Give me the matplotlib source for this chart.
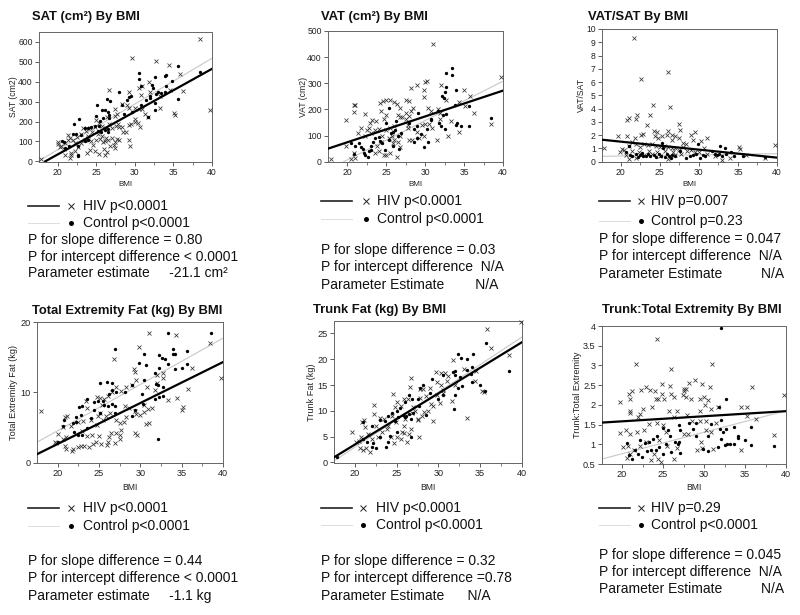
import matplotlib
matplotlib.use('Agg')
import matplotlib.pyplot as plt
from matplotlib.lines import Line2D

plt.rcParams.update({
    'font.family': ['Liberation Sans', 'DejaVu Sans'],
})

W, H = 800, 615

# (BMI, value)
sat_hiv = [(38.4,615),(29.7,520),(32.8,503),(34.4,483),(35.8,440),(36.3,352),(39.8,260),(35.1,245),(35.2,235),(33.3,270),(31.9,398),(31,380),(30.5,370),(30.8,335),(29.3,350),(26.7,360),(17.9,10),(29.3,110),(29.4,75),(28.5,150),(28.9,150),(27.5,265),(28.3,290),(29,285),(29.2,270),(30,270),(30.5,262),(31,262),(31.3,240),(31.7,225),(29.5,190),(30,200),(30,215),(30.4,195),(30.7,172),(29.2,185),(28.3,175),(27.8,190),(28,175),(27.7,115),(28,110),(27.4,65),(27.3,80),(27.4,95),(26.8,75),(27,120),(26.5,110),(26.2,100),(25.9,95),(26,60),(26.1,30),(26.4,45),(25.4,35),(24.8,50),(24.2,55),(23.8,40),(24.6,80),(24.3,100),(23.9,120),(23.5,105),(23,90),(22.7,70),(22.2,50),(21.7,30),(21.6,15),(21.8,40),(21,30),(20.9,60),(20.5,75),(20,85),(20,95),(20.3,70),(21,90),(21.3,110),(21.4,135),(21.6,120),(22,105),(22.3,90),(22.5,125),(23,140),(23.3,170),(23.7,155),(24,130),(24.4,150),(24.8,175),(24.2,170),(25,210),(25.4,195),(25.8,180),(26.3,170),(26.7,190),(27,170),(27.6,180),(27.5,230),(27.7,240),(26.4,225),(25,105),(25.5,115),(25.2,140),(25.8,130),(26.3,120),(32,350),(34.5,360),(33.3,330)]
sat_ctrl = [(35.6,480),(38.5,447),(30.5,445),(30.5,413),(32.6,425),(33.9,428),(34.1,432),(34.8,403),(35.6,315),(30.8,378),(28,350),(29.5,330),(29.3,325),(26.4,315),(26.8,305),(25.1,285),(28.4,285),(30.8,285),(29,310),(28.6,238),(29.7,248),(31.5,310),(32,330),(32,320),(32.2,385),(32.4,370),(32.8,340),(33,350),(33.4,345),(33.9,350),(34,378),(32.6,295),(32.6,258),(31.7,222),(26.2,258),(25.8,258),(26.5,250),(26.7,235),(26.7,220),(25.9,220),(25.5,205),(25,230),(22.1,190),(22.8,212),(23.5,170),(24.3,175),(24.9,180),(25.2,155),(25.6,150),(26.5,165),(26.5,150),(24,170),(20.6,100),(20.8,95),(21,65),(21.5,75),(22,140),(22.4,140),(22.6,25),(22.6,30),(22.7,75),(23,135),(23.5,100),(24,110),(25.4,180),(26.2,160)]

vat_hiv = [(31,450),(39.8,323),(30.2,308),(30,305),(28.9,295),(28.2,283),(29.9,273),(29.9,248),(32,295),(32.7,238),(35,273),(34.4,230),(35.7,250),(36.3,187),(38.4,145),(35.1,215),(33.3,155),(34.4,112),(32.9,100),(31.5,85),(30.9,130),(30.5,145),(30,145),(29.6,140),(29,115),(29.9,100),(29.2,90),(28.3,85),(27.9,85),(30.3,205),(30.7,195),(31.9,185),(31.9,165),(31.7,200),(28.4,205),(28.2,195),(27.5,235),(27.9,232),(27.5,185),(27.9,175),(27.8,140),(27.8,130),(26.8,205),(26.4,220),(26,228),(25.5,237),(25,235),(24.6,232),(24.2,225),(24.9,180),(24.7,165),(24.3,195),(23.7,155),(23.2,160),(22.9,150),(22.8,130),(22.2,182),(21,218),(20.8,218),(20.8,190),(19.8,160),(17.9,12),(19.8,60),(20.5,10),(20.8,35),(21,15),(21.3,110),(21.8,130),(22.2,100),(22.5,120),(23,110),(23.5,120),(24,125),(24.5,100),(25,120),(25.5,130),(26,135),(26.5,180),(26.7,170),(26,85),(26.4,20),(25.5,35),(25,25),(24.7,25),(24,40),(23.5,35),(23.8,60),(24.3,75),(26.7,55),(26.5,75),(25.8,70),(25.3,90),(25.7,100),(26.8,100),(27.5,165),(27,170)]
vat_ctrl = [(20.5,70),(20.8,28),(21,60),(21.5,70),(21.8,55),(22,50),(22.1,35),(22.3,25),(22.6,20),(22.8,40),(23,60),(23.3,75),(23,45),(23.6,90),(24.1,95),(24.2,80),(24.5,70),(24.8,45),(25,150),(25.3,207),(25.4,85),(25.6,110),(25.9,115),(25.8,60),(26.1,120),(26.5,100),(26.6,50),(26.9,110),(26.3,155),(27.9,150),(28.6,75),(28.6,125),(28.9,90),(29,138),(29.1,185),(29.4,105),(29.8,57),(30.2,125),(30.4,75),(30.7,160),(30.8,165),(31.8,150),(32,135),(32.5,125),(31.7,195),(32.3,180),(32.7,182),(33.9,142),(34.1,148),(34.6,138),(35.6,138),(35.6,215),(33.8,218),(38.5,168),(33.4,360),(33.4,330),(32.7,340),(32.7,285),(34,275),(32.5,265),(32.2,250),(32.4,245)]

ratio_hiv = [(21.7,9.3),(26,6.75),(22.6,6.2),(24.1,4.3),(26.3,4.1),(23.8,3.5),(21.9,3.2),(22.1,3.5),(21,3.3),(20.8,3.15),(23.3,2.75),(27.4,2.85),(27.6,2.4),(24.2,2.3),(26,2.3),(29.5,2.25),(24.6,2.2),(22.9,2.1),(22.6,2),(20.8,1.95),(19.7,1.9),(21.8,1.75),(24.4,1.9),(24.8,1.8),(25.3,1.95),(25.9,2),(26.5,2),(27,1.95),(27.4,1.8),(29,2),(29.3,1.65),(30.3,1.55),(31.1,1.75),(26.6,1.6),(28,1.4),(28.3,1.35),(17.9,1.05),(35.1,1.1),(35.2,0.95),(39.8,1.25),(38.4,0.3),(30.6,1),(20.2,0.95),(19.9,0.7),(20.4,0.9),(21,1.2),(21.5,1.5),(22,1.3),(22.5,1.1),(23,1.35),(23.5,1.25),(24,1.35),(24.5,1.15),(25,1.1),(25.5,1.2),(26,1.1),(26.5,1),(27,1),(27.5,0.9),(28,1.1),(28.5,0.8),(29,0.9),(29.5,0.7),(30,0.75),(31,0.6),(32,0.4),(33,0.1),(34,0.3),(36,0.5),(21,0.2),(22,0.3),(23,0.5),(24,0.6),(25,0.4),(26,0.2),(27,0.5),(20.7,0.5),(21.5,0.8),(22.3,0.7),(23.6,0.8),(24.7,0.75),(25.7,0.8),(26.7,0.7),(27.7,0.6)]
ratio_ctrl = [(21.1,1.2),(20.7,0.7),(21.2,0.5),(21.5,0.4),(21.9,0.6),(22.2,0.35),(22.4,0.5),(22.7,0.65),(22.9,0.45),(23.2,0.4),(23.5,0.55),(23.8,0.4),(24.2,0.5),(24.5,0.35),(24.9,0.6),(25.2,0.45),(25.3,1.4),(25.4,1),(25.6,0.35),(25.9,0.55),(26.2,0.45),(26.4,0.3),(26.6,0.5),(26.9,0.4),(27.6,0.8),(28.3,0.3),(28.9,0.4),(29.2,0.5),(29.6,0.6),(29.9,1.35),(30.2,0.3),(30.5,0.5),(30.8,0.45),(31.7,0.8),(32,0.6),(32.3,0.5),(32.6,0.55),(32.7,1.15),(33.4,1),(33.5,0.6),(34.1,0.7),(34.5,0.4),(35.7,0.45),(38.5,0.35),(33,0.4)]

ext_hiv = [(18,7.3),(31.1,18.4),(34.3,18.1),(38.4,17),(29.8,16.4),(26.8,14.8),(36.3,13.5),(39.8,12.1),(35.8,10.5),(34.4,9.2),(33.4,8.9),(35.2,7.9),(35.1,7.5),(31.4,7.7),(30.4,8.2),(31.1,5.7),(30.7,5.5),(29.6,4),(29.4,4.2),(29.5,6.9),(30,6.8),(30.5,7.2),(30.9,7.6),(31.8,10.3),(32,11.3),(30.8,10.7),(32.8,12.8),(32.7,12),(32,12.5),(29.2,13.3),(29.4,12.9),(29.5,11.8),(29,11),(28.3,10.7),(27.7,10.2),(27.1,10.8),(26.6,10),(26.1,9.5),(25.6,9),(25.1,9.2),(24.7,9.4),(23.4,8.8),(23.5,7.8),(21.1,6.7),(20.9,6.5),(20,4.1),(20.6,5),(19.7,3),(19.8,2.8),(20.7,3.4),(21,3.6),(20.9,2.3),(21,2),(21.7,1.7),(21.8,2),(22.4,2.2),(22.8,2.3),(23.2,2.3),(23.8,2.2),(24.3,2.6),(24.6,3),(25.3,2.7),(26,2.5),(26.1,2.9),(26.9,2.8),(27.6,3.3),(27.6,3.9),(27.7,4.6),(27,4.2),(26.4,4.2),(26.2,3.6),(25,3.8),(24.2,4),(23.5,3.8),(23,4.5),(22.5,5.8),(21.6,5.2),(23.1,5.9),(24,6),(24.7,5.3),(25.5,6),(26.3,7),(25.9,6.7),(27,6),(27.5,5.6),(28,5.8),(28.3,6.5),(28.1,8),(28.6,7.8),(29.4,7.4),(25.4,8.2),(24.9,6.6),(25.1,7.1)]
ext_ctrl = [(38.5,18.5),(33.4,18.4),(26.9,16.2),(34,16.2),(35.7,15.9),(30.4,15.4),(32.3,15.3),(34,15.5),(34.2,15.5),(32.6,14.9),(33,14.7),(29.8,14.1),(30.7,13.9),(33.4,14),(35.7,14),(32.2,13.5),(34.2,13.3),(35,13.5),(31.8,12.8),(30.4,11.8),(31.9,11.2),(32.1,11),(32.7,10.7),(32.7,9.5),(32.2,9.3),(31.8,9),(32.1,3.3),(30.2,9.8),(30.3,8.3),(29.4,7.5),(29,6.6),(29,11.1),(28.2,10),(27,10),(26.6,11.3),(26,11.5),(25.1,11.3),(26.6,10.3),(26.2,9.8),(25.5,8.8),(24.9,8.7),(24.4,8.6),(23.5,9),(23,8),(22.6,7.9),(22.8,6.8),(22.2,6.5),(20.8,6),(20.6,5.2),(21.9,5.6),(22.2,5.8),(22,4.4),(22.5,4),(23,4),(23.6,4.9),(24,6.4),(24.4,7.5),(25.1,7),(25.6,8.2),(26.1,8.1),(26.6,8.3),(26.9,7),(26.9,8),(20,3)]

trunk_hiv = [(39.9,27.3),(35.8,25.8),(36.3,22.2),(38.4,20.9),(33.4,8.6),(29.4,8),(35.2,13.9),(35.5,13.7),(34.4,15.7),(34.5,17.8),(33,18.1),(31.7,19.9),(31.6,12),(30.8,17.4),(30.3,17.3),(29.7,17.5),(30.3,15),(30.6,14),(30.2,11.6),(29.1,11.3),(29.3,11),(29,14.5),(28.2,14.2),(27.8,14.3),(26.7,16.4),(26.6,14.7),(24.6,13.3),(25.9,12.3),(26.4,12.3),(22.3,11.1),(22.3,9.3),(21.1,8.3),(20.8,7.8),(19.7,6),(21.2,6.8),(20.1,3.9),(20.7,5),(20.6,2.8),(21,2.5),(21.3,2.8),(21.8,2),(22,4.5),(22.8,5),(23.3,6),(24,7),(24.3,5),(24.7,3.7),(25.5,4.5),(25,5),(26.2,4),(26.5,5.5),(26.7,6.5),(25.9,7),(25.6,6),(27.7,5),(27.6,8.3),(28,9),(28.7,10),(27.2,10),(26.8,9.5),(25.5,11),(25,11.7),(24.8,10.7),(24.4,9),(23.5,8.5),(23,8.7),(22.5,7),(21.6,5.5),(20.5,4.2),(29.8,13),(30.5,13.5),(29.8,15.5),(31,15.7),(31.2,16.7),(32,15),(28.5,12.8),(27.8,12.4),(26.9,10.7),(25.9,5.7),(26,8.5),(24.9,7.9),(23.9,6.5),(27.5,8.5),(28.3,9.8)]
trunk_ctrl = [(35.7,23.1),(38.5,17.8),(32.3,21),(34.1,21),(32.7,20.3),(33.4,20),(34,18.5),(33.4,18),(32,17.8),(31.7,17.5),(30.6,17),(29.2,16.2),(32,17),(32.6,16.6),(33.9,17.1),(34,15.6),(35,15),(35.6,13.8),(32.8,14.9),(32.4,14.5),(32,13),(31.9,10.4),(30.6,13),(30,12.2),(29,13.5),(28.1,15.1),(27.8,14.5),(26.5,13),(26,11.8),(26.8,12.3),(25.4,10.5),(25,10),(24.5,9.5),(24,9),(23.6,8),(23,8.2),(22.1,7),(21,7.9),(21,4.5),(21.5,4),(22,3),(22.2,3.7),(22.5,2.8),(23,5),(23.7,3),(24,4),(24.2,5.2),(25,6),(26,8.8),(26.5,9.3),(26.7,8.4),(27,9.5),(26.7,5),(27.6,12.3),(27.7,11),(28.5,9.2),(26.1,9),(25.7,9.2),(25.2,8.8),(24.8,8),(17.8,1)]

tte_hiv = [(24.3,3.68),(21.7,3.03),(26,2.92),(31,3.03),(35.8,2.45),(39.8,2.25),(28.9,2.63),(29.7,2.53),(28.2,2.55),(30.7,2.45),(25.9,2.47),(24.9,2.53),(24,2.35),(23.4,2.38),(22.9,2.45),(22.3,2.37),(21.2,2.35),(20.9,2.28),(21,2.15),(19.8,2.08),(21,1.85),(21,1.8),(22.2,1.78),(22.5,1.9),(21.9,1.7),(23.6,1.95),(24.1,2.15),(24.4,2.15),(24.9,2.28),(25.1,2.15),(26,2.28),(26.3,2.2),(27.5,2.4),(27.6,2.35),(27.8,2.4),(27.4,2.25),(27.8,2.2),(28.4,2.15),(29.5,2.15),(30,2.2),(30.5,2.12),(30.1,2),(29.5,1.85),(30.9,1.9),(31.7,1.95),(34.5,1.95),(35.2,1.95),(35.3,1.72),(36.3,1.65),(38.5,1.23),(34.5,0.85),(31.1,0.88),(29.8,0.9),(29.2,0.85),(19.8,1.28),(20.5,1.37),(20.1,0.92),(20.7,0.95),(21,1.27),(21.8,1.3),(22.7,1.35),(23.3,1.52),(24.3,1.55),(25,1.5),(25.7,1.85),(26.3,1.7),(26.7,1.85),(27.9,1.75),(27.6,1.25),(28,1.25),(28.5,1.6),(29.5,1.6),(30.2,1.6),(30.2,1.35),(30.9,1.3),(31.5,1.55),(29.6,1.05),(20.6,0.65),(21,0.75),(21.5,0.85),(22.2,0.95),(22.9,1.05),(23.5,0.6),(23.9,0.75),(24.4,0.62),(24.8,0.55),(25.5,0.95),(26.3,0.62),(26.7,0.9),(25.3,1.3),(24.5,1.1)]
tte_ctrl = [(32.1,3.96),(32.7,2.15),(31.8,1.95),(32.1,1.62),(30.8,1.52),(29,1.22),(29,1.55),(28.6,1.38),(28.2,1.55),(27,1.5),(27.1,1.36),(25,1.42),(25.6,1.35),(24.2,1.22),(23.8,1.13),(23.3,1.05),(22.8,1.03),(22.2,1.1),(20.6,1.04),(20.8,0.72),(21.2,0.63),(21.6,0.85),(22,0.75),(22.4,0.68),(23.1,0.82),(23.5,0.85),(24.1,0.85),(24.5,0.92),(25,0.75),(25.4,1),(25.8,1.2),(26,0.8),(26.4,1.05),(26.8,1),(27.1,0.78),(27,1.05),(29.9,0.87),(30.5,0.84),(31.7,0.92),(32.1,1.13),(32.5,0.98),(32.8,1),(33.2,1),(33.6,1),(34.1,1.2),(34.2,1.15),(35,1.1),(35.7,0.98),(35.7,1.45),(33.6,1.45),(32.3,1.3),(32.7,1.38),(38.5,0.96),(30.5,1.22),(31.9,1.4)]

# fit lines, ends
sat_fit = ([18.4, 40], [0, 465]); sat_fit2 = ([17.9, 40], [10, 518])
vat_fit = ([17.5, 40], [50, 272]); vat_fit2 = ([19.5, 40], [0, 308])
ratio_fit = ([17.6, 40], [1.65, 0.3]); ratio_fit2 = ([17.6, 40], [0.4, 0.6])
ext_fit = ([17.5, 40], [1.2, 14.3]); ext_fit2 = ([17.5, 40], [2.9, 17.7])
trunk_fit = ([17.5, 40], [1, 23.3]); trunk_fit2 = ([17.5, 40], [0.3, 24.3])
tte_fit = ([17.5, 40], [1.55, 1.84]); tte_fit2 = ([17.6, 40], [0.63, 1.85])

bmi_ticks = [20, 25, 30, 35, 40]

panels = [
    dict(box=(39, 32, 212, 162), xlim=(17.6, 40), ylim=(-3, 650), yticks=[0,100,200,300,400,500,600],
         ylabel='SAT (cm2)', hiv=sat_hiv, ctrl=sat_ctrl, fit=sat_fit, fit2=sat_fit2,
         title='SAT (cm²) By BMI', title_xy=(32, 17), ylab_x=14, xlab_y=184, fs=6.2),
    dict(box=(328, 31, 503, 162), xlim=(17.5, 40), ylim=(-1, 500), yticks=[0,100,200,300,400,500],
         ylabel='VAT (cm2)', hiv=vat_hiv, ctrl=vat_ctrl, fit=vat_fit, fit2=vat_fit2,
         title='VAT (cm²) By BMI', title_xy=(321, 17), ylab_x=303, xlab_y=184, fs=6.2),
    dict(box=(602, 29, 777, 162), xlim=(17.6, 40), ylim=(-0.03, 10), yticks=list(range(11)),
         ylabel='VAT/SAT', hiv=ratio_hiv, ctrl=ratio_ctrl, fit=ratio_fit, fit2=ratio_fit2,
         title='VAT/SAT By BMI', title_xy=(588, 17), ylab_x=581, xlab_y=184, fs=6.2),
    dict(box=(37, 322, 223, 463), xlim=(17.5, 40), ylim=(-0.05, 20), yticks=[0,10,20],
         ylabel='Total Extremity Fat (kg)', hiv=ext_hiv, ctrl=ext_ctrl, fit=ext_fit, fit2=ext_fit2,
         title='Total Extremity Fat (kg) By BMI', title_xy=(32, 311), ylab_x=14, xlab_y=487, fs=6.6),
    dict(box=(334, 321, 522, 463), xlim=(17.5, 40), ylim=(-0.1, 27.4), yticks=[0,5,10,15,20,25],
         ylabel='Trunk Fat (kg)', hiv=trunk_hiv, ctrl=trunk_ctrl, fit=trunk_fit, fit2=trunk_fit2,
         title='Trunk Fat (kg) By BMI', title_xy=(313, 310), ylab_x=312, xlab_y=487, fs=6.6),
    dict(box=(602, 326, 786, 464), xlim=(17.55, 40), ylim=(0.5, 4), yticks=[0.5,1,1.5,2,2.5,3,3.5,4],
         ylabel='Trunk:Total Extremity', hiv=tte_hiv, ctrl=tte_ctrl, fit=tte_fit, fit2=tte_fit2,
         title='Trunk:Total Extremity By BMI', title_xy=(602, 310), ylab_x=578, xlab_y=487, fs=6.6),
]

notes = [
    dict(x=28, mx=71, tx=83, y1=206, y2=223, hiv='HIV p<0.0001', ctrl='Control p<0.0001', py=[240, 257, 273],
         lines=['P for slope difference = 0.80', 'P for intercept difference < 0.0001', 'Parameter estimate     -21.1 cm²']),
    dict(x=321, mx=366, tx=377, y1=201, y2=219, hiv='HIV p<0.0001', ctrl='Control p<0.0001', py=[250, 267, 285],
         lines=['P for slope difference = 0.03', 'P for intercept difference  N/A', 'Parameter Estimate        N/A']),
    dict(x=599, mx=641, tx=651, y1=201, y2=221, hiv='HIV p=0.007', ctrl='Control p=0.23', py=[239, 256, 274],
         lines=['P for slope difference = 0.047', 'P for intercept difference  N/A', 'Parameter Estimate          N/A']),
    dict(x=28, mx=71, tx=83, y1=508, y2=526, hiv='HIV p<0.0001', ctrl='Control p<0.0001', py=[561, 578, 596],
         lines=['P for slope difference = 0.44', 'P for intercept difference < 0.0001', 'Parameter estimate     -1.1 kg']),
    dict(x=321, mx=363, tx=376, y1=508, y2=525, hiv='HIV p<0.0001', ctrl='Control p<0.0001', py=[561, 578, 596],
         lines=['P for slope difference = 0.32', 'P for intercept difference =0.78', 'Parameter Estimate      N/A']),
    dict(x=599, mx=641, tx=651, y1=508, y2=525, hiv='HIV p=0.29', ctrl='Control p<0.0001', py=[555, 572, 589],
         lines=['P for slope difference = 0.045', 'P for intercept difference  N/A', 'Parameter Estimate          N/A']),
]

TEXT = '#111111'
AXC = '#444444'
BODY = 10.0

fig = plt.figure(figsize=(W / 100, H / 100), dpi=100)

def px(x, y):
    return x / W, 1 - y / H

for p, n in zip(panels, notes):
    l, t, r, b = p['box']
    ax = fig.add_axes([l / W, 1 - b / H, (r - l) / W, (b - t) / H])
    ax.plot(*p['fit2'], color='#c8c8c8', lw=0.8, zorder=2)
    ax.plot([q[0] for q in p['hiv']], [q[1] for q in p['hiv']], ls='', marker='x', ms=3.4, mew=0.55,
            color='#333333', zorder=3, clip_on=False)
    ax.plot([q[0] for q in p['ctrl']], [q[1] for q in p['ctrl']], ls='', marker='o', ms=2.4, mew=0,
            color='black', zorder=3, clip_on=False)
    ax.plot(*p['fit'], color='black', lw=1.6, zorder=4)
    ax.set_xlim(p['xlim'])
    ax.set_ylim(p['ylim'])
    ax.set_xticks(bmi_ticks)
    ax.set_xticks([22.5, 27.5, 32.5, 37.5], minor=True)
    ax.set_yticks(p['yticks'])
    ax.set_yticklabels([f'{v:g}' for v in p['yticks']])
    ax.tick_params(axis='both', which='major', labelsize=p['fs'], length=3, width=0.6, color=AXC, labelcolor='#222222', pad=1.5)
    ax.tick_params(axis='both', which='minor', length=1.8, width=0.5, color=AXC)
    for s in ax.spines.values():
        s.set_linewidth(0.7)
        s.set_color('#666666')

    fig.text(*px(*p['title_xy']), p['title'], fontsize=9.4, fontweight='bold', color=TEXT, va='center', ha='left')
    fig.text(*px(p['ylab_x'], (t + b) / 2), p['ylabel'], fontsize=p['fs'], rotation=90, va='center', ha='center', color='#222222')
    fig.text(*px((l + r) / 2, p['xlab_y']), 'BMI', fontsize=p['fs'] - 0.4, va='center', ha='center', color='#222222')

    x0, y0 = px(n['x'], n['y1'])
    x1, _ = px(n['x'] + 31, n['y1'])
    fig.add_artist(Line2D([x0, x1], [y0, y0], color='#222222', lw=1.2))
    y2 = px(0, n['y2'])[1]
    fig.add_artist(Line2D([x0, x1], [y2, y2], color='#dddddd', lw=0.7))
    fig.add_artist(Line2D([n['mx'] / W], [y0], ls='', marker='x', ms=4, mew=0.7, color='#222222'))
    fig.add_artist(Line2D([n['mx'] / W], [y2], ls='', marker='o', ms=3.6, mew=0, color='black'))
    fig.text(n['tx'] / W, y0, n['hiv'], fontsize=BODY, va='center', ha='left', color=TEXT)
    fig.text(n['tx'] / W, y2, n['ctrl'], fontsize=BODY, va='center', ha='left', color=TEXT)
    for line, ly in zip(n['lines'], n['py']):
        fig.text(n['x'] / W, px(0, ly)[1], line, fontsize=BODY, va='center', ha='left', color=TEXT)

fig.savefig('out.png', dpi=100)
